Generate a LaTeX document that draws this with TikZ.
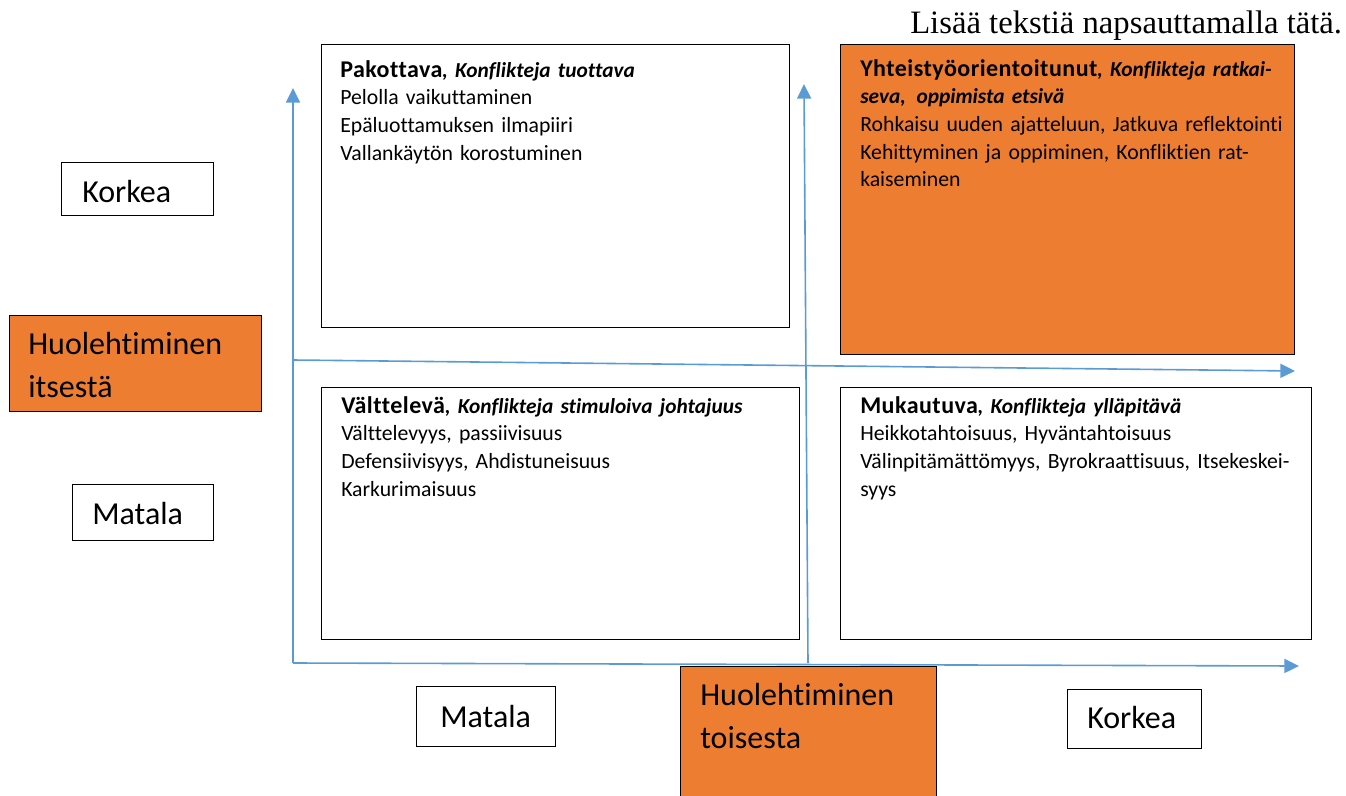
\documentclass[tikz,border=0pt]{standalone}
\usepackage{fontspec}
\setmainfont{Carlito}[Ligatures={NoCommon}]
\newfontfamily\tnr{Liberation Serif}
\usetikzlibrary{arrows.meta}
\definecolor{orng}{HTML}{ED7D31}
\definecolor{axisblue}{HTML}{5B9BD5}
\begin{document}
\begin{tikzpicture}[x=0.75pt,y=-0.75pt,
  wbox/.style={draw=black,line width=1.1pt,fill=white,inner sep=0pt,anchor=north west},
  obox/.style={draw=black,line width=1.1pt,fill=orng,inner sep=0pt,anchor=north west},
  qtext/.style={anchor=base west,inner sep=0pt,align=left,text width=345pt,font=\fontsize{16.3}{20.8}\selectfont},
  bigtext/.style={anchor=base west,inner sep=0pt,align=left,text width=200pt,font=\fontsize{24}{32.25}\selectfont},
  axis/.style={draw=axisblue,line width=1.2pt,-{Triangle[length=11pt,width=10.5pt]}}]
\useasboundingbox (0,0) rectangle (1346,796);
% quadrant boxes
\node[wbox,minimum width=351pt,minimum height=212.25pt] (tl) at (321,44) {};
\node[obox,minimum width=340.5pt,minimum height=232.5pt] (tr) at (840,44) {};
\node[wbox,minimum width=358.5pt,minimum height=189pt] (bl) at (321,387) {};
\node[wbox,minimum width=353.25pt,minimum height=189pt] (br) at (840,387) {};
% quadrant texts
\newcommand{\hdr}[1]{{\bfseries\fontsize{18}{20.8}\selectfont\addfontfeatures{LetterSpace=2}#1}}
\newcommand{\ttl}[1]{{\bfseries\itshape\fontsize{16}{20.8}\selectfont #1}}
\node[qtext] (tltext) at (340,77) {\hdr{Pakottava}\ttl{, Konflikteja tuottava}\\
Pelolla vaikuttaminen\\ Epäluottamuksen ilmapiiri\\ Vallankäytön korostuminen};
\node[qtext] (trtext) at (860,76) {\hdr{Yhteistyöorientoitunut}\ttl{, Konflikteja ratkai-}\\
\ttl{seva,\, oppimista etsivä}\\
Rohkaisu uuden ajatteluun, Jatkuva reflektointi\\
Kehittyminen ja oppiminen, Konfliktien rat-\\ kaiseminen};
\node[qtext] (bltext) at (341,413) {\hdr{Välttelevä}\ttl{, Konflikteja stimuloiva johtajuus}\\
Välttelevyys, passiivisuus\\ Defensiivisyys, Ahdistuneisuus\\ Karkurimaisuus};
\node[qtext] (brtext) at (860,413) {\hdr{Mukautuva}\ttl{, Konflikteja ylläpitävä}\\
Heikkotahtoisuus, Hyväntahtoisuus\\
Välinpitämättömyys, Byrokraattisuus, Itsekeskei-\\ syys};
% side labels
\node[wbox,minimum width=114pt,minimum height=39.75pt] (korkeaL) at (61,162) {};
\node[bigtext] at (82,202) {Korkea};
\node[obox,minimum width=189pt,minimum height=72pt] (itse) at (9,315) {};
\node[bigtext] at (28,354) {Huolehtiminen\\ itsestä};
\node[wbox,minimum width=105.75pt,minimum height=42pt] (matalaL) at (72,484) {};
\node[bigtext] at (92,524) {Matala};
\node[wbox,minimum width=104.25pt,minimum height=45pt] (matalaB) at (416,686) {};
\node[bigtext] at (440,727) {Matala};
\node[obox,minimum width=192pt,minimum height=100pt] (toinen) at (680,666) {};
\node[bigtext] at (700,705) {Huolehtiminen\\ toisesta};
\node[wbox,minimum width=100.5pt,minimum height=44.25pt] (korkeaB) at (1067,689) {};
\node[bigtext] at (1087,728) {Korkea};
% axes
\coordinate (o1) at (293,663);
\coordinate (ytop) at (293,88);
\coordinate (xend) at (1299,666);
\coordinate (m1) at (293,360);
\coordinate (m2) at (1295,371);
\coordinate (v1) at (808,663);
\coordinate (v2) at (804,84);
\draw[axis] (o1) -- (ytop);
\draw[axis] (o1) -- (xend);
\draw[axis] (m1) -- (m2);
\draw[axis] (v1) -- (v2);
% top right text
\node[anchor=base west,inner sep=0pt,font=\tnr\fontsize{24.5}{28}\selectfont] (hint) at (910,33) {Lisää tekstiä napsauttamalla tätä.};
\end{tikzpicture}
\end{document}
